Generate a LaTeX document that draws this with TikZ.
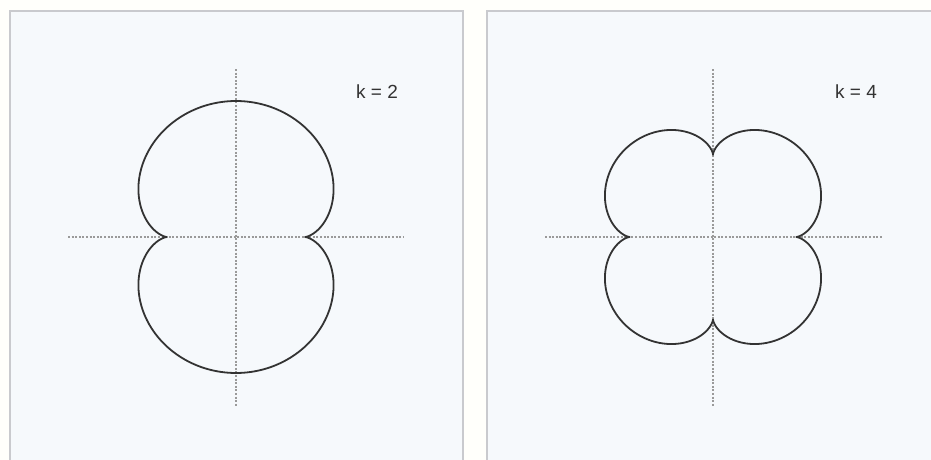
\documentclass[tikz,border=0pt]{standalone}
\usepackage{fontspec}
\setmainfont{Liberation Sans}
\definecolor{pagebg}{HTML}{FFFFFB}
\definecolor{panelbg}{HTML}{F6F9FC}
\definecolor{panelborder}{HTML}{C9CACE}
\definecolor{axisgray}{HTML}{9A9A9A}
\definecolor{curvecol}{HTML}{333333}
\definecolor{labelcol}{HTML}{333333}
\tikzset{
  panel/.style={fill=panelbg, draw=panelborder, line width=2pt},
  axisline/.style={draw=axisgray, line width=1.2pt, dash pattern=on 2pt off 1.6pt},
  curveline/.style={draw=curvecol, line width=1.8pt, line join=round},
  klabel/.style={text=labelcol, font=\fontsize{19pt}{22pt}\selectfont, inner sep=0pt}
}
\begin{document}
\begin{tikzpicture}[x=1pt,y=-1pt]
\useasboundingbox (0,0) rectangle (931,460);
\fill[pagebg] (0,0) rectangle (931,460);
% panels
\draw[panel] (9.5,11) rectangle (463,480);
\draw[panel] (487,11) rectangle (960,480);
% left panel axes
\draw[axisline] (68,237) -- (404,237);
\draw[axisline] (236,69) -- (236,406);
% right panel axes
\draw[axisline] (545,237) -- (882,237);
\draw[axisline] (713,69) -- (713,406);
% k=2 epicycloid (nephroid)
\draw[curveline] plot[domain=0:360, samples=361, smooth cycle, variable=\t]
  ({236 + 3*34.5*cos(\t) - 34.5*cos(3*\t)}, {237 + 3*34*sin(\t) - 34*sin(3*\t)});
% k=4 epicycloid
\draw[curveline] plot[domain=0:360, samples=481, smooth cycle, variable=\t]
  ({713 + 5*20.8*cos(\t) - 20.8*cos(5*\t)}, {237 + 5*20.6*sin(\t) - 20.6*sin(5*\t)});
% labels
\node[klabel] (lab2) at (377,92) {k = 2};
\node[klabel] (lab4) at (856,92) {k = 4};
\end{tikzpicture}
\end{document}
